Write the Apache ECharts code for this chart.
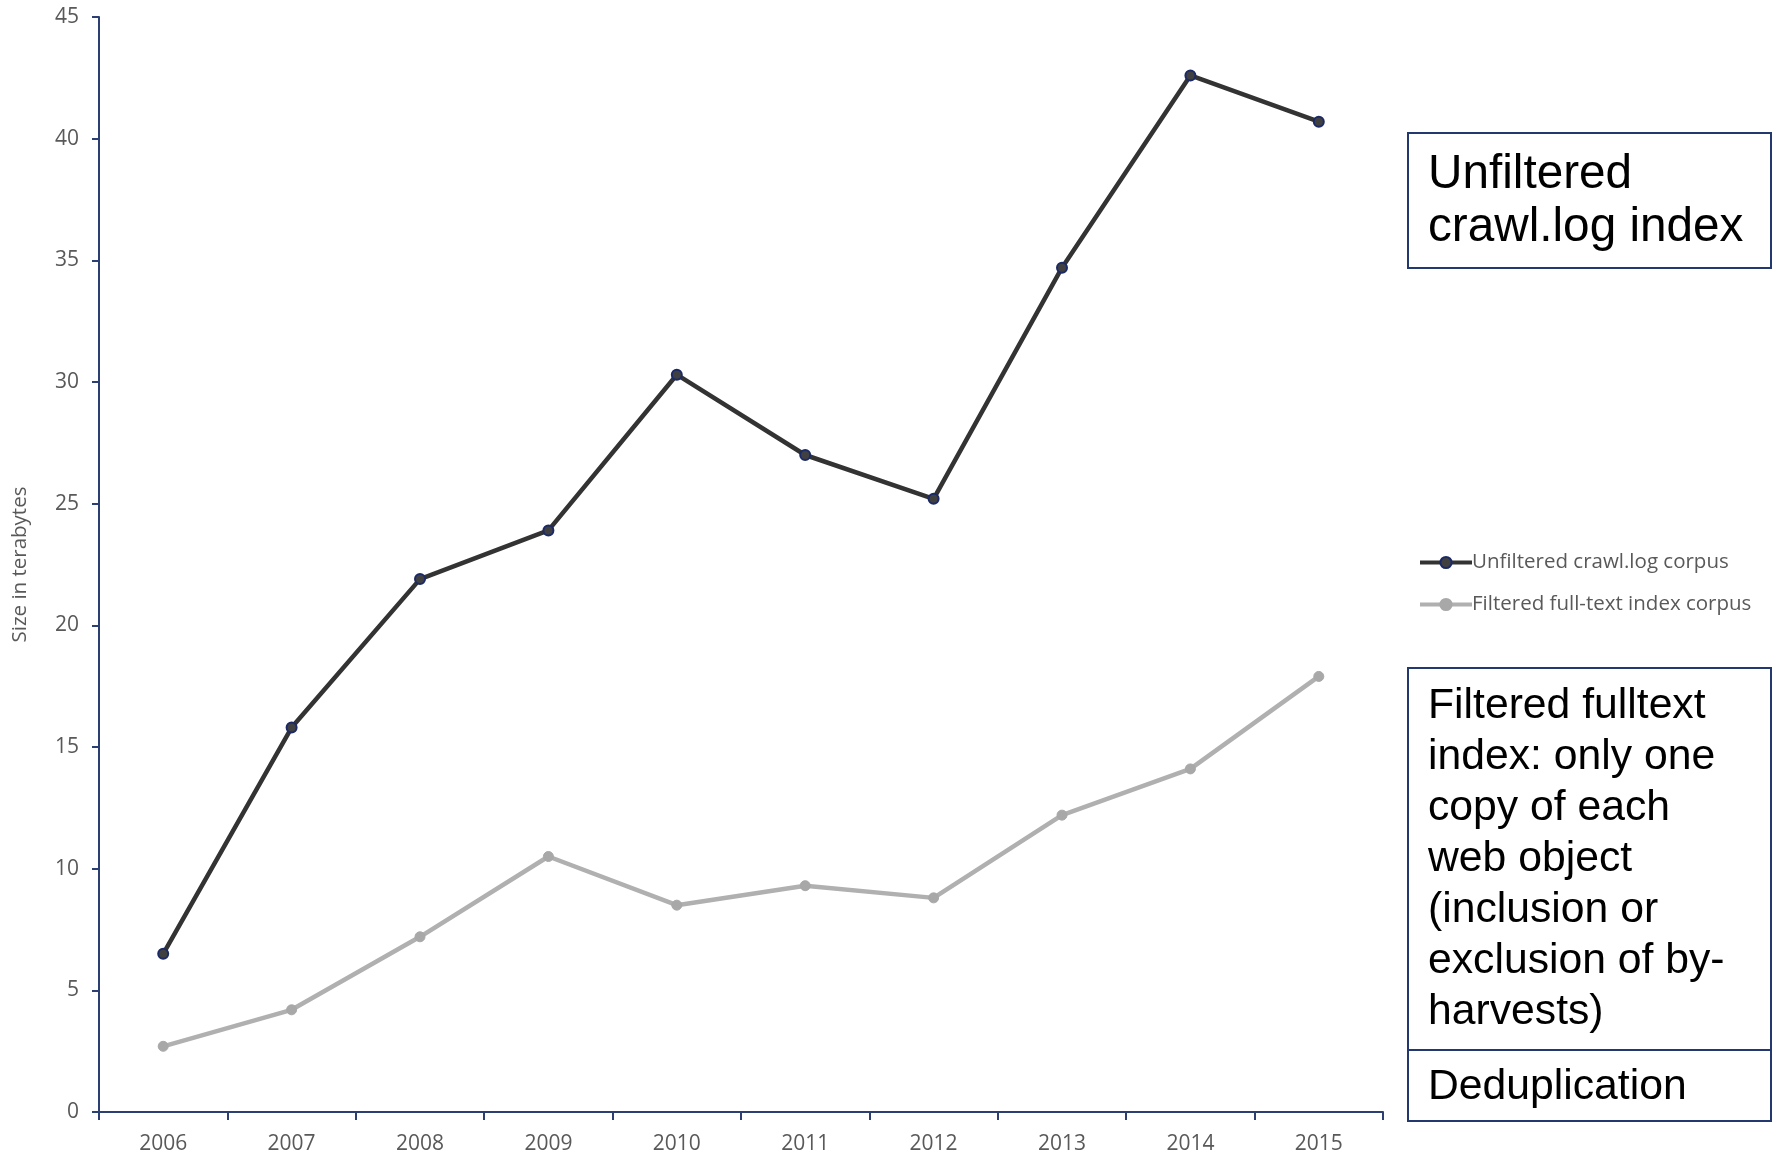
<!DOCTYPE html>
<html>
<head>
<meta charset="utf-8">
<script src="https://cdn.jsdelivr.net/npm/echarts@6/dist/echarts.min.js"></script>
<style>
html,body{margin:0;padding:0;background:#fff;}
#chart{width:1779px;height:1155px;}
</style>
</head>
<body>
<div id="chart"></div>
<script>
const years = ['2006','2007','2008','2009','2010','2011','2012','2013','2014','2015'];
const unfiltered = [6.5, 15.8, 21.9, 23.9, 30.3, 27.0, 25.2, 34.7, 42.6, 40.7];
const filtered = [2.7, 4.2, 7.2, 10.5, 8.5, 9.3, 8.8, 12.2, 14.1, 17.9];
const seriesNames = ['Unfiltered crawl.log corpus', 'Filtered full-text index corpus'];
const yAxisName = 'Size in terabytes';
const boxText1 = 'Unfiltered\ncrawl.log index';
const boxText2 = 'Filtered fulltext\nindex: only one\ncopy of each\nweb object\n(inclusion or\nexclusion of by-\nharvests)';
const boxText3 = 'Deduplication';

const axisColor = '#2B3F73';
const labelColor = '#595959';
const font = 'Open Sans';
const boxBorder = '#22386E';

const chart = echarts.init(document.getElementById('chart'), null, {renderer: 'canvas'});
chart.setOption({
  animation: false,
  backgroundColor: '#fff',
  grid: {left: 99, top: 17, width: 1284, height: 1096, containLabel: false},
  legend: {
    orient: 'vertical',
    left: 1413,
    top: 547,
    itemWidth: 52,
    itemHeight: 14,
    itemGap: 21,
    lineStyle: {width: 4},
    textStyle: {color: labelColor, fontSize: 20.5, fontFamily: font, padding: [0,0,0,-5]},
    data: seriesNames
  },
  xAxis: {
    type: 'category',
    data: years,
    boundaryGap: true,
    axisLine: {lineStyle: {color: axisColor, width: 2}},
    axisTick: {show: true, alignWithLabel: false, length: 8, lineStyle: {color: axisColor, width: 2}},
    axisLabel: {color: labelColor, fontSize: 21, fontFamily: font, margin: 22},
    splitLine: {show: false}
  },
  yAxis: {
    type: 'value',
    min: 0, max: 45, interval: 5,
    name: yAxisName,
    nameLocation: 'middle',
    nameGap: 68,
    nameRotate: 90,
    nameTextStyle: {color: labelColor, fontSize: 20.5, fontFamily: font},
    axisLine: {show: true, lineStyle: {color: axisColor, width: 2}},
    axisTick: {show: true, length: 7, lineStyle: {color: axisColor, width: 2}},
    axisLabel: {color: labelColor, fontSize: 21, fontFamily: font, margin: 20},
    splitLine: {show: false}
  },
  series: [
    {
      name: seriesNames[0],
      type: 'line',
      data: unfiltered,
      symbol: 'circle',
      symbolSize: 10,
      lineStyle: {color: '#333333', width: 4.5},
      itemStyle: {color: '#404040', borderColor: '#1B2A66', borderWidth: 2},
      z: 3
    },
    {
      name: seriesNames[1],
      type: 'line',
      data: filtered,
      symbol: 'circle',
      symbolSize: 10,
      lineStyle: {color: '#B0B0B0', width: 4.5},
      itemStyle: {color: '#A8A8A8', borderColor: '#A8A8A8', borderWidth: 1},
      z: 2
    }
  ],
  graphic: [
    {type: 'rect', shape: {x: 1408, y: 133, width: 363, height: 135},
     style: {fill: '#fff', stroke: boxBorder, lineWidth: 2}},
    {type: 'text', x: 1428, y: 148, style: {text: boxText1, fill: '#000', font: '47.7px "Liberation Sans", Arial, sans-serif', lineHeight: 53, verticalAlign: 'top'}},
    {type: 'rect', shape: {x: 1408, y: 668, width: 363, height: 453},
     style: {fill: '#fff', stroke: boxBorder, lineWidth: 2}},
    {type: 'line', shape: {x1: 1408, y1: 1050, x2: 1771, y2: 1050}, style: {stroke: boxBorder, lineWidth: 2}},
    {type: 'text', x: 1428, y: 681, style: {text: boxText2, fill: '#000', font: '42.7px "Liberation Sans", Arial, sans-serif', lineHeight: 51, verticalAlign: 'top'}},
    {type: 'text', x: 1428, y: 1062, style: {text: boxText3, fill: '#000', font: '42.7px "Liberation Sans", Arial, sans-serif', lineHeight: 51, verticalAlign: 'top'}}
  ]
});
</script>
</body>
</html>
